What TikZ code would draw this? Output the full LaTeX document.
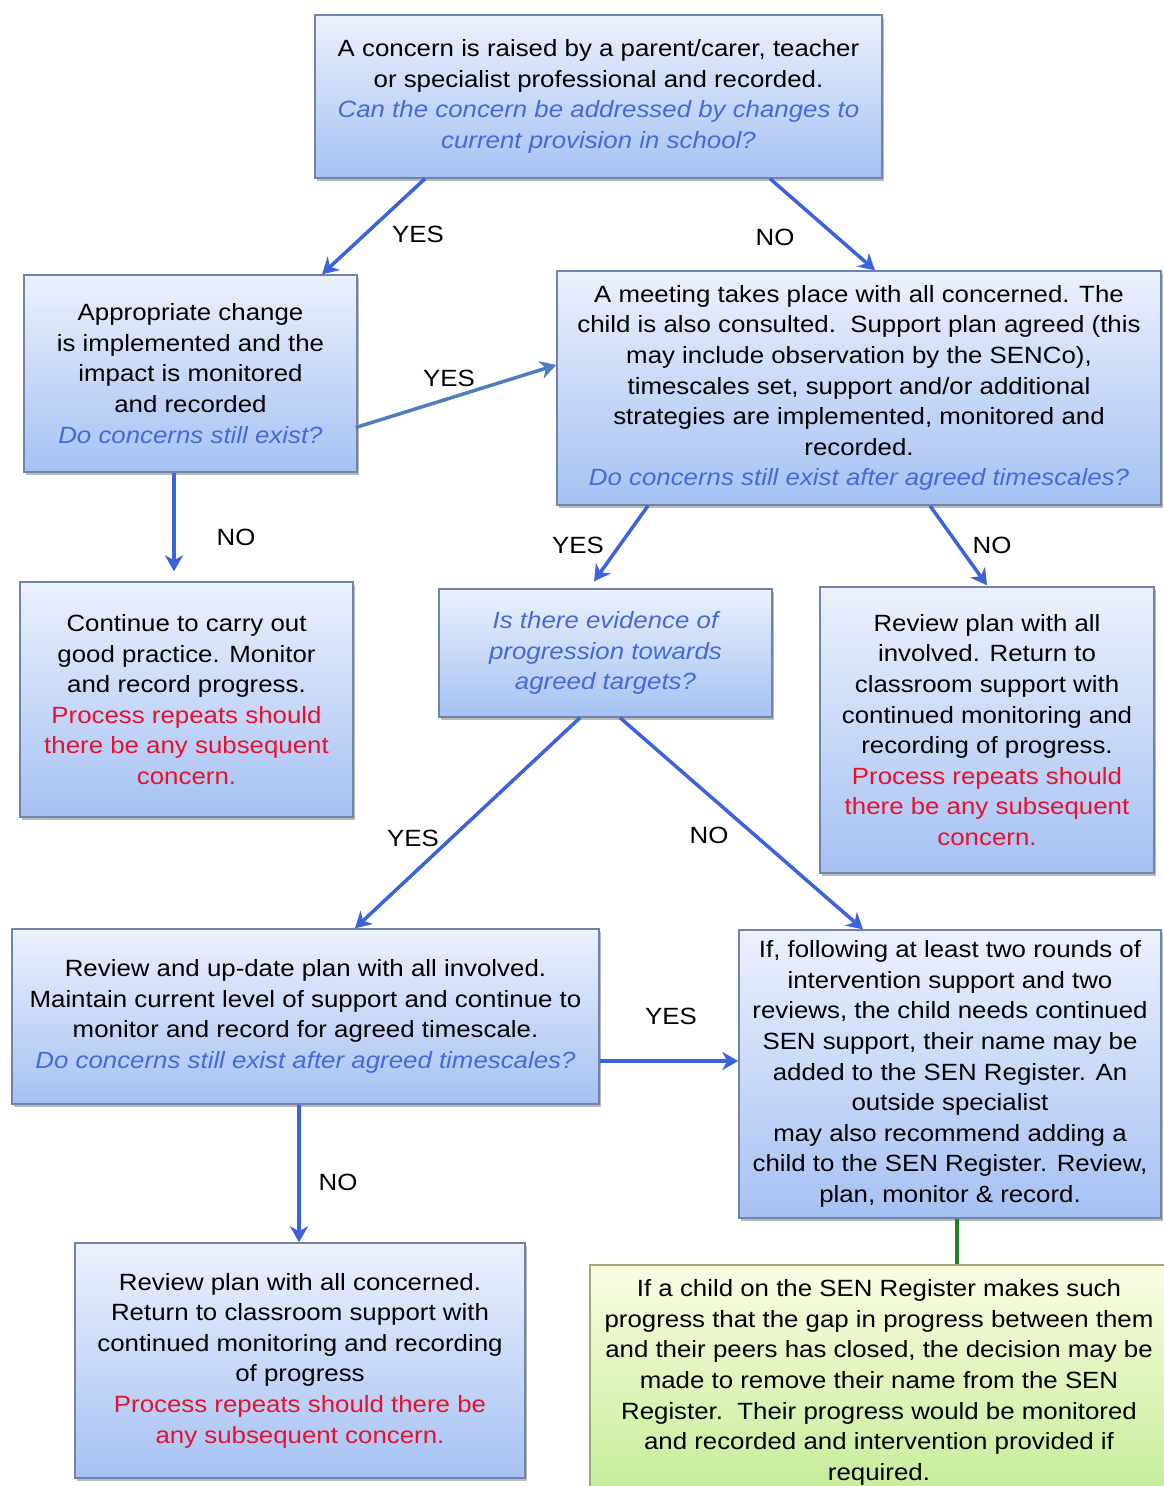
\documentclass[tikz,border=0pt]{standalone}
\usepackage{fontspec}
\setmainfont[FakeStretch=1.1]{Liberation Sans}
\usetikzlibrary{arrows.meta,shadows}
\definecolor{qblue}{RGB}{70,105,220}
\definecolor{qred}{RGB}{232,17,45}
\definecolor{arrblue}{RGB}{60,98,222}
\definecolor{arrgray}{RGB}{80,125,190}
\definecolor{boxtop}{RGB}{236,241,253}
\definecolor{boxbot}{RGB}{165,193,243}
\definecolor{boxline}{RGB}{110,132,172}
\definecolor{grtop}{RGB}{250,253,226}
\definecolor{grbot}{RGB}{196,236,150}
\definecolor{grline}{RGB}{150,175,120}
\definecolor{darkgr}{RGB}{30,130,30}
\tikzset{
  bbox/.style={draw=boxline, line width=1.4pt, top color=boxtop, bottom color=boxbot,
    drop shadow={shadow xshift=2pt, shadow yshift=-3pt, fill=black!45, opacity=0.6},
    align=center, inner sep=0pt, font=\fontsize{23.5}{30.6}\selectfont},
  gbox/.style={draw=grline, line width=1.4pt, top color=grtop, bottom color=grbot,
    align=center, inner sep=0pt, font=\fontsize{23.5}{30.6}\selectfont},
  conn/.style={draw=arrblue, line width=3.5pt, -{Stealth[length=16pt,width=18pt,inset=5pt]}},
  lbl/.style={font=\fontsize{23.5}{26}\selectfont, inner sep=0pt},
}
\newcommand{\q}[1]{{\color{qblue}\itshape #1}}
\newcommand{\rd}[1]{{\color{qred}#1}}
\begin{document}
\begin{tikzpicture}[x=1pt,y=-1pt]
\useasboundingbox[fill=white] (0,0) rectangle (1164,1486);

\node[bbox, minimum width=567pt, minimum height=163pt] (top) at (598.5,96.5)
 {A concern is raised by a parent/carer, teacher\\or specialist professional and recorded.\\\q{Can the concern be addressed by changes to}\\\q{current provision in school?}};

\node[bbox, minimum width=333pt, minimum height=197pt] (left) at (190.5,373.5)
 {Appropriate change\\is implemented and the\\impact is monitored\\and recorded\\\q{Do concerns still exist?}};

\node[bbox, minimum width=604pt, minimum height=234pt] (meet) at (859,388)
 {A meeting takes place with all concerned. The\\child is also consulted.\ \ Support plan agreed (this\\may include observation by the SENCo),\\timescales set, support and/or additional\\strategies are implemented, monitored and\\recorded.\\\q{Do concerns still exist after agreed timescales?}};

\node[bbox, minimum width=333pt, minimum height=235pt] (cont) at (186.5,699.5)
 {Continue to carry out\\good practice. Monitor\\and record progress.\\\rd{Process repeats should}\\\rd{there be any subsequent}\\\rd{concern.}};

\node[bbox, minimum width=333pt, minimum height=128pt] (evid) at (605.5,653)
 {\q{Is there evidence of}\\\q{progression towards}\\\q{agreed targets?}};

\node[bbox, minimum width=334pt, minimum height=286pt] (revr) at (987,730)
 {Review plan with all\\involved. Return to\\classroom support with\\continued monitoring and\\recording of progress.\\\rd{Process repeats should}\\\rd{there be any subsequent}\\\rd{concern.}};

\node[bbox, minimum width=587pt, minimum height=175pt] (upd) at (305.5,1016.5)
 {Review and up-date plan with all involved.\\Maintain current level of support and continue to\\monitor and record for agreed timescale.\\\q{Do concerns still exist after agreed timescales?}};

\node[bbox, minimum width=422pt, minimum height=288pt] (ifb) at (950,1074)
 {If, following at least two rounds of\\intervention support and two\\reviews, the child needs continued\\SEN support, their name may be\\added to the SEN Register. An\\outside specialist\\may also recommend adding a\\child to the SEN Register. Review,\\plan, monitor \& record.};

\node[bbox, minimum width=450pt, minimum height=235pt] (bot) at (300,1360.5)
 {Review plan with all concerned.\\Return to classroom support with\\continued monitoring and recording\\of progress\\\rd{Process repeats should there be}\\\rd{any subsequent concern.}};

\node[gbox, minimum width=578pt, minimum height=235pt] (green) at (879,1382.5)
 {If a child on the SEN Register makes such\\progress that the gap in progress between them\\and their peers has closed, the decision may be\\made to remove their name from the SEN\\Register.\ \ Their progress would be monitored\\and recorded and intervention provided if\\required.};

% connectors
\draw[conn] ([xshift=-173.5pt]top.south) -- ([xshift=131.5pt]left.north);
\node[lbl] (l1) at (418,234) {YES};
\draw[conn] ([xshift=171.5pt]top.south) -- ([xshift=16pt]meet.north);
\node[lbl] (l2) at (775,237) {NO};
\draw[conn, draw=arrgray] ([xshift=-2pt,yshift=-54pt]left.east) -- ([yshift=23pt]meet.west);
\node[lbl] (l3) at (449,378) {YES};
\coordinate (c1) at ([xshift=-12.5pt,yshift=10pt]cont.north);
\draw[conn] ([xshift=-16.5pt]left.south) -- (c1);
\node[lbl] (l4) at (236,537) {NO};
\coordinate (c2) at ([xshift=-11.5pt,yshift=7pt]evid.north);
\draw[conn] ([xshift=-211pt]meet.south) -- (c2);
\node[lbl] (l5) at (578,545) {YES};
\draw[conn] ([xshift=71pt]meet.south) -- ([yshift=1pt]revr.north);
\node[lbl] (l6) at (992,545) {NO};
\draw[conn] ([xshift=-25.5pt]evid.south) -- ([xshift=49.5pt]upd.north);
\node[lbl] (l7) at (413,838) {YES};
\draw[conn] ([xshift=14.5pt]evid.south) -- ([xshift=-87pt]ifb.north);
\node[lbl] (l8) at (709,835) {NO};
\draw[conn] ([yshift=-44.5pt]upd.east) -- ([yshift=13pt]ifb.west);
\node[lbl] (l9) at (671,1016) {YES};
\draw[conn] ([xshift=-6.5pt]upd.south) -- ([xshift=-1pt]bot.north);
\node[lbl] (l10) at (338,1182) {NO};
\draw[draw=darkgr, line width=3.5pt] ([xshift=7pt]ifb.south) -- ([xshift=78pt]green.north);
\end{tikzpicture}
\end{document}
